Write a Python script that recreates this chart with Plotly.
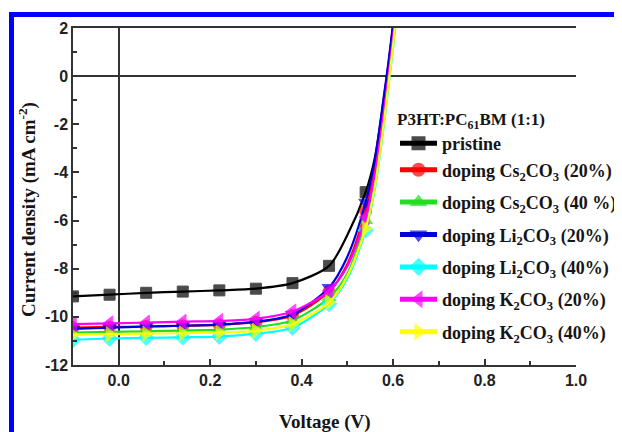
import plotly.graph_objects as go

# ---------------- data ----------------
x_markers = [-0.1, -0.02, 0.06, 0.14, 0.22, 0.30, 0.38, 0.46, 0.54]
x_tail = [0.50, 0.56, 0.58, 0.59, 0.60, 0.61]

names = [
    "pristine",
    "doping Cs<sub>2</sub>CO<sub>3</sub> (20%)",
    "doping Cs<sub>2</sub>CO<sub>3</sub> (40 %)",
    "doping Li<sub>2</sub>CO<sub>3</sub> (20%)",
    "doping Li<sub>2</sub>CO<sub>3</sub> (40%)",
    "doping K<sub>2</sub>CO<sub>3</sub> (20%)",
    "doping K<sub>2</sub>CO<sub>3</sub> (40%)",
]

pristine_y = [-9.15, -9.08, -9.0, -8.95, -8.9, -8.83, -8.6, -7.88, -4.82]
cs20_y = [-10.45, -10.42, -10.4, -10.37, -10.33, -10.22, -9.95, -8.95, -5.6]
cs40_y = [-10.65, -10.62, -10.6, -10.57, -10.53, -10.42, -10.15, -9.2, -6.0]
li20_y = [-10.5, -10.45, -10.4, -10.37, -10.32, -10.2, -9.9, -8.78, -5.24]
li40_y = [-10.95, -10.9, -10.87, -10.85, -10.82, -10.7, -10.45, -9.46, -6.4]
k20_y = [-10.3, -10.27, -10.24, -10.2, -10.17, -10.08, -9.78, -8.92, -5.86]
k40_y = [-10.75, -10.72, -10.7, -10.68, -10.65, -10.58, -10.3, -9.4, -6.33]

pristine_tail = [-6.6, -3.4, -0.9, 0.5, 2.1, 3.8]
cs20_tail = [-7.8, -3.9, -1.3, 0.2, 1.8, 3.6]
cs40_tail = [-8.2, -4.4, -1.7, -0.2, 1.4, 3.2]
li20_tail = [-7.5, -3.5, -0.8, 0.6, 2.2, 4.0]
li40_tail = [-8.4, -4.7, -2.0, -0.4, 1.2, 3.0]
k20_tail = [-7.9, -4.1, -1.5, 0.0, 1.6, 3.4]
k40_tail = [-8.3, -4.6, -1.9, -0.3, 1.3, 3.1]

x_tickvals = [0.0, 0.2, 0.4, 0.6, 0.8, 1.0]
x_ticktext = ["0.0", "0.2", "0.4", "0.6", "0.8", "1.0"]
y_tickvals = [-12, -10, -8, -6, -4, -2, 0, 2]
y_ticktext = ["-12", "-10", "-8", "-6", "-4", "-2", "0", "2"]

legend_title = "P3HT:PC<sub>61</sub>BM (1:1)"
x_title = "Voltage (V)"
y_title = "Current density (mA cm<sup>-2</sup>)"

# ---------------- style ----------------
series_y = [pristine_y, cs20_y, cs40_y, li20_y, li40_y, k20_y, k40_y]
series_tail = [pristine_tail, cs20_tail, cs40_tail, li20_tail, li40_tail, k20_tail, k40_tail]
colors = ["#000000", "#ff0000", "#22dd22", "#0000dd", "#00ffff", "#ff00ff", "#ffff00"]
symbols = ["square", "circle", "triangle-up", "triangle-down", "diamond",
           "triangle-left", "triangle-right"]
msizes = [11, 12, 12, 12, 12, 13, 13]
groups = ["g1", "g1", "g2", "g3", "g4", "g5", "g6"]

# page body has an 8px margin: figure drawn from (8, 8) of the window
OFF = 8
W, H = 622 - OFF, 432 - OFF
# plot area in window pixels
L, R, T, B = 73, 576, 28, 365


def px(xp):
    return (xp - L) / (R - L)


def py(yp):
    return (B - yp) / (B - T)


fig = go.Figure()
for name, ym, yt, c, s, ms, g in zip(names, series_y, series_tail, colors, symbols, msizes, groups):
    pts = sorted([(x, y, True) for x, y in zip(x_markers, ym)] +
                 [(x, y, False) for x, y in zip(x_tail, yt)])
    xs = [p[0] for p in pts]
    ys = [p[1] for p in pts]
    sz = [ms if p[2] else 0 for p in pts]
    fig.add_trace(go.Scatter(
        x=xs, y=ys, name=name, mode="lines+markers", legendgroup=g,
        line=dict(color=c, width=2.2, shape="spline", smoothing=0.8),
        marker=dict(symbol=s, size=sz, color=c, line=dict(width=1, color=c)),
    ))

serif = "Liberation Serif, Times New Roman, serif"
sans = "Liberation Sans, Arial, sans-serif"
axcol = "#333333"
txtcol = "#151515"

fig.update_layout(
    width=W, height=H,
    margin=dict(l=L - OFF, r=W - (R - OFF), t=T - OFF, b=H - (B - OFF), pad=0,
                autoexpand=False),
    paper_bgcolor="white", plot_bgcolor="white",
    showlegend=True,
    legend=dict(
        x=px(395), y=py(103), xanchor="left", yanchor="top",
        bgcolor="rgba(0,0,0,0)", borderwidth=0,
        font=dict(family=serif, size=18, color=txtcol, weight="bold"),
        title=dict(text=legend_title,
                   font=dict(family=serif, size=17, color=txtcol, weight="bold")),
        itemsizing="constant", tracegroupgap=6, itemwidth=37,
        traceorder="grouped",
    ),
    xaxis=dict(
        range=[-0.1, 1.0], tickvals=x_tickvals, ticktext=x_ticktext,
        ticks="inside", ticklen=6, tickwidth=1.5, tickcolor=axcol,
        minor=dict(ticks="inside", ticklen=4, tickwidth=1.5, tickcolor=axcol,
                   tick0=0.1, dtick=0.2),
        showline=True, linecolor=axcol, linewidth=1.5, mirror=True,
        zeroline=True, zerolinecolor=axcol, zerolinewidth=1.5,
        showgrid=False,
        tickfont=dict(family=sans, size=16, color="#222222", weight="bold"),
    ),
    yaxis=dict(
        range=[-12, 2], tickvals=y_tickvals, ticktext=y_ticktext,
        ticks="inside", ticklen=6, tickwidth=1.5, tickcolor=axcol,
        minor=dict(ticks="inside", ticklen=4, tickwidth=1.5, tickcolor=axcol,
                   tick0=-11, dtick=2),
        showline=True, linecolor=axcol, linewidth=1.5, mirror=False,
        zeroline=True, zerolinecolor=axcol, zerolinewidth=1.5,
        showgrid=False,
        tickfont=dict(family=sans, size=16, color="#222222", weight="bold"),
    ),
    annotations=[
        dict(text=x_title, xref="paper", yref="paper", x=0.5, y=py(422),
             xanchor="center", yanchor="middle", showarrow=False,
             font=dict(family=serif, size=19, color=txtcol, weight="bold")),
        dict(text=y_title, xref="paper", yref="paper", x=px(27), y=py(210),
             xanchor="center", yanchor="middle", showarrow=False, textangle=-90,
             font=dict(family=serif, size=19, color=txtcol, weight="bold")),
    ],
    shapes=[
        dict(type="rect", xref="paper", yref="paper", x0=px(9), x1=px(700),
             y0=py(17), y1=py(12), fillcolor="#0000ff", line=dict(width=0), layer="above"),
        dict(type="rect", xref="paper", yref="paper", x0=px(9), x1=px(14),
             y0=py(500), y1=py(12), fillcolor="#0000ff", line=dict(width=0), layer="above"),
    ],
)

fig.write_html("out.html")
